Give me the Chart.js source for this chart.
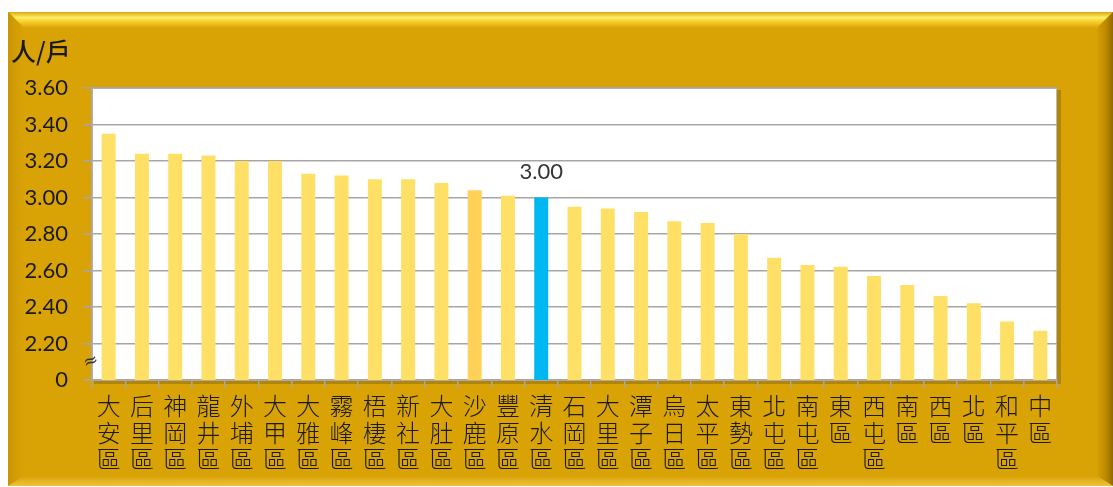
<!DOCTYPE html>
<html>
<head>
<meta charset="utf-8">
<script src="https://cdn.jsdelivr.net/npm/chart.js@4"></script>
<style>
html,body{margin:0;padding:0;background:#fff;}
#wrap{position:relative;width:1113px;height:487px;}
</style>
</head>
<body>
<div id="wrap"><canvas id="c" width="1113" height="487"></canvas></div>
<script>
const districts = ['大安區','后里區','神岡區','龍井區','外埔區','大甲區','大雅區','霧峰區','梧棲區','新社區','大肚區','沙鹿區','豐原區','清水區','石岡區','大里區','潭子區','烏日區','太平區','東勢區','北屯區','南屯區','東區','西屯區','南區','西區','北區','和平區','中區'];
const householdSize = [3.35,3.24,3.24,3.23,3.20,3.20,3.13,3.12,3.10,3.10,3.08,3.04,3.01,3.00,2.95,2.94,2.92,2.87,2.86,2.80,2.67,2.63,2.62,2.57,2.52,2.46,2.42,2.32,2.27];
const yTickValues = [2.0,2.2,2.4,2.6,2.8,3.0,3.2,3.4,3.6];
const yTickLabels = ['0','2.20','2.40','2.60','2.80','3.00','3.20','3.40','3.60'];
const unitLabel = '人/戶';
const highlightName = '清水區';
const accentName = '沙鹿區';

const barColors = districts.map(d => d === highlightName ? '#00B7F1' : (d === accentName ? '#FFD157' : '#FFE066'));

const panelPlugin = {
  id: 'panel',
  beforeDraw(chart) {
    const ctx = chart.ctx;
    const W = chart.width, H = chart.height;
    ctx.save();
    ctx.fillStyle = '#ffffff';
    ctx.fillRect(0, 0, W, H);
    const L = 8, T = 12, R = 1113, B = 486;
    const bw = 16;
    ctx.fillStyle = '#D9A306';
    ctx.fillRect(L, T, R - L, B - T);
    let g = ctx.createLinearGradient(0, T, 0, T + bw);
    g.addColorStop(0, '#DDA80A');
    g.addColorStop(0.35, '#FFEE6A');
    g.addColorStop(0.55, '#FBD430');
    g.addColorStop(1, '#D9A306');
    ctx.fillStyle = g;
    ctx.beginPath();
    ctx.moveTo(L, T); ctx.lineTo(R, T); ctx.lineTo(R - bw, T + bw); ctx.lineTo(L + bw, T + bw); ctx.closePath();
    ctx.fill();
    g = ctx.createLinearGradient(L, 0, L + bw, 0);
    g.addColorStop(0, '#C89400');
    g.addColorStop(0.5, '#D39E05');
    g.addColorStop(1, '#D9A306');
    ctx.fillStyle = g;
    ctx.beginPath();
    ctx.moveTo(L, T); ctx.lineTo(L + bw, T + bw); ctx.lineTo(L + bw, B - 10); ctx.lineTo(L, B); ctx.closePath();
    ctx.fill();
    g = ctx.createLinearGradient(R - bw, 0, R, 0);
    g.addColorStop(0, '#D5A005');
    g.addColorStop(0.6, '#B98800');
    g.addColorStop(1, '#8E6A00');
    ctx.fillStyle = g;
    ctx.beginPath();
    ctx.moveTo(R, T); ctx.lineTo(R, B); ctx.lineTo(R - bw, B - 10); ctx.lineTo(R - bw, T + bw); ctx.closePath();
    ctx.fill();
    g = ctx.createLinearGradient(0, B - 10, 0, B);
    g.addColorStop(0, '#D9A306');
    g.addColorStop(0.5, '#E5B322');
    g.addColorStop(1, '#EDC040');
    ctx.fillStyle = g;
    ctx.beginPath();
    ctx.moveTo(L, B); ctx.lineTo(L + bw, B - 10); ctx.lineTo(R - bw, B - 10); ctx.lineTo(R, B); ctx.closePath();
    ctx.fill();
    const a = chart.chartArea;
    ctx.fillStyle = 'rgba(0,0,0,0.18)';
    ctx.fillRect(a.left + 2, a.top + 2, a.right - a.left + 2, a.bottom - a.top + 2);
    ctx.fillStyle = '#ffffff';
    ctx.fillRect(a.left, a.top, a.right - a.left, a.bottom - a.top);
    ctx.strokeStyle = '#BBBBBB';
    ctx.lineWidth = 1;
    ctx.strokeRect(a.left + 0.5, a.top + 0.5, a.right - a.left - 1, a.bottom - a.top);
    ctx.fillStyle = '#1a1a1a';
    ctx.font = '500 25px "Noto Sans CJK TC"';
    ctx.textBaseline = 'middle';
    ctx.textAlign = 'left';
    ctx.fillText(unitLabel, 11, 51);
    ctx.restore();
  },
  afterDatasetsDraw(chart) {
    const ctx = chart.ctx;
    const meta = chart.getDatasetMeta(0);
    const idx = districts.indexOf(highlightName);
    const bar = meta.data[idx];
    ctx.save();
    ctx.fillStyle = '#333333';
    ctx.font = '22px Lato';
    ctx.textAlign = 'center';
    ctx.textBaseline = 'middle';
    ctx.fillText(householdSize[idx].toFixed(2), bar.x, bar.y - 26);
    const ys = chart.scales.y;
    const yb = ys.getPixelForValue(2.1);
    ctx.translate(chart.chartArea.left - 1, yb);
    ctx.rotate(-0.35);
    ctx.font = '18px "DejaVu Sans"';
    ctx.fillStyle = '#333333';
    ctx.textBaseline = 'middle';
    ctx.fillText('≈', 0, 0);
    ctx.restore();
  }
};

new Chart(document.getElementById('c'), {
  type: 'bar',
  data: {
    labels: districts.map(d => d.split('')),
    datasets: [{
      data: householdSize,
      backgroundColor: barColors,
      borderWidth: 0,
      barPercentage: 0.42,
      categoryPercentage: 1.0
    }]
  },
  options: {
    responsive: false,
    animation: false,
    devicePixelRatio: 1,
    layout: { padding: { left: 0, top: 88, right: 56, bottom: 0 } },
    plugins: { legend: { display: false }, tooltip: { enabled: false } },
    scales: {
      y: {
        min: 2.0, max: 3.6,
        afterFit(s) { s.width = 92; },
        afterBuildTicks(s) { s.ticks = yTickValues.map(v => ({ value: v })); },
        ticks: {
          color: '#1a1a1a',
          font: { family: 'Lato', size: 22 },
          padding: 15,
          callback(v) { const i = yTickValues.findIndex(t => Math.abs(t - v) < 1e-6); return i >= 0 ? yTickLabels[i] : ''; }
        },
        grid: { color: '#A6A6A6', lineWidth: 1.5, tickLength: 9, drawTicks: true },
        border: { display: true, color: '#A6A6A6', width: 1.5 }
      },
      x: {
        afterFit(s) { s.height = 487 - 380; },
        ticks: {
          color: '#1a1a1a',
          font: { family: '"Noto Sans CJK TC"', size: 24, weight: '300', lineHeight: 1.1 },
          maxRotation: 0, minRotation: 0, autoSkip: false,
          padding: 5
        },
        grid: { display: true, drawOnChartArea: false, color: '#A6A6A6', lineWidth: 1.5, tickLength: 8, offset: true },
        border: { display: true, color: '#A6A6A6', width: 1.5 }
      }
    }
  },
  plugins: [panelPlugin]
});
</script>
</body>
</html>
